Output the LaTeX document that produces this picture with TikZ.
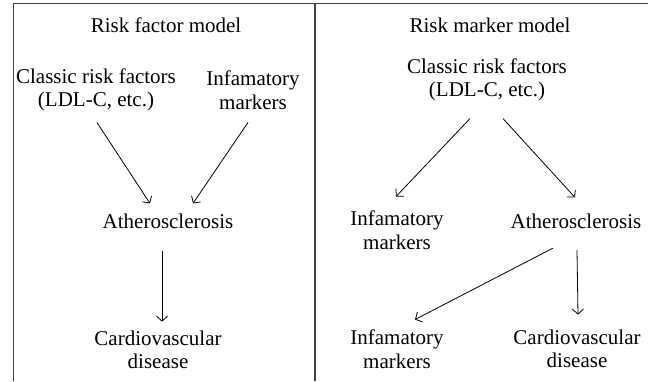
\documentclass[tikz,border=0pt]{standalone}
\usepackage{fontspec}
\setmainfont{Liberation Serif}
\usetikzlibrary{arrows.meta}
\begin{document}
\begin{tikzpicture}[x=1pt,y=-1pt,
  lbl/.style={inner sep=0pt,align=center,font=\fontsize{21}{23.5}\selectfont},
  frame/.style={draw=black!75,line width=1.4pt},
  arr/.style={draw=black,line width=0.8pt,-{Straight Barb[length=5pt,width=11pt,line width=0.8pt]}}]
\useasboundingbox (0,0) rectangle (648,381);
% frame
\coordinate (tl) at (13.5,3.5);
\coordinate (tr) at (648,3.5);
\coordinate (bl) at (13.5,381);
\coordinate (tm) at (315,3.5);
\coordinate (bm) at (315,381);
\draw[frame] (bl) -- (tl) -- (tr);
\draw[frame] (tm) -- (bm);
% left panel
\node[lbl] (t1) at (166,25) {Risk factor model};
\node[lbl] (crf1) at (96,90) {Classic risk factors\\(LDL-C, etc.)};
\node[lbl] (inf1) at (253,90) {Infamatory\\markers};
\node[lbl] (ath1) at (168,221) {Atherosclerosis};
\node[lbl] (cvd1) at (158,350) {Cardiovascular\\disease};
\draw[arr] ([xshift=1pt,yshift=-11pt]crf1.south) -- ([xshift=-18pt,yshift=10pt]ath1.north);
\draw[arr] ([xshift=-5pt,yshift=-13pt]inf1.south) -- ([xshift=25pt,yshift=10pt]ath1.north);
\draw[arr] ([xshift=-6pt,yshift=-22pt]ath1.south) -- ([xshift=4pt,yshift=9pt]cvd1.north);
% right panel
\node[lbl] (t2) at (490,25) {Risk marker model};
\node[lbl] (crf2) at (487,80) {Classic risk factors\\(LDL-C, etc.)};
\node[lbl] (inf2) at (397,230) {Infamatory\\markers};
\node[lbl] (ath2) at (576,221) {Atherosclerosis};
\node[lbl] (inf3) at (397,349) {Infamatory\\markers};
\node[lbl] (cvd2) at (577,349) {Cardiovascular\\disease};
\draw[arr] ([xshift=-17pt,yshift=-17pt]crf2.south) -- ([xshift=-1pt,yshift=14pt]inf2.north);
\draw[arr] ([xshift=16pt,yshift=-17pt]crf2.south) -- ([xshift=-1pt,yshift=16pt]ath2.north);
\draw[arr] ([xshift=-23pt,yshift=-19.5pt]ath2.south) -- ([xshift=18pt,yshift=10pt]inf3.north);
\draw[arr] ([xshift=1pt,yshift=-21.5pt]ath2.south) -- ([xshift=1pt,yshift=15pt]cvd2.north);
\end{tikzpicture}
\end{document}
